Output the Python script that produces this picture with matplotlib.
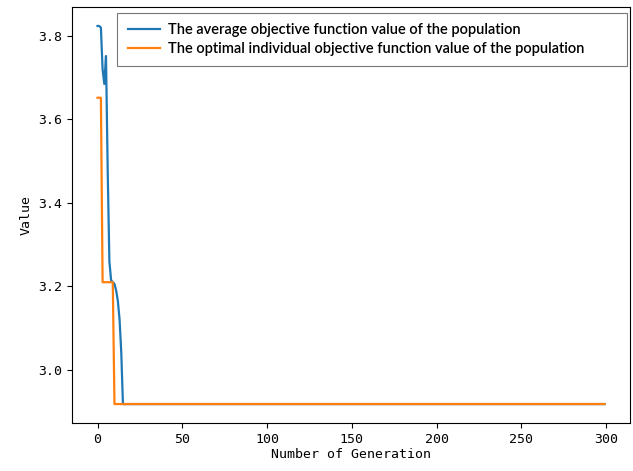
import numpy as np
import matplotlib.pyplot as plt

# values
n_gen = 300
avg_head = [3.824, 3.824, 3.82, 3.72, 3.685, 3.752, 3.48, 3.26, 3.215, 3.21,
            3.206, 3.19, 3.165, 3.121, 3.043, 2.918]
best_head = [3.652, 3.652, 3.652, 3.21, 3.21, 3.21, 3.21, 3.21, 3.21, 3.21]
final_value = 2.918

avg_vals = avg_head + [final_value] * (n_gen - len(avg_head))
best_vals = best_head + [final_value] * (n_gen - len(best_head))
generations = np.arange(n_gen)

label_font = 'DejaVu Sans Mono'

fig = plt.figure(figsize=(6.33, 4.71), dpi=100)
ax = fig.add_axes([0.114, 0.102, 0.881, 0.883])

ax.plot(generations, avg_vals, color='#1f77b4', lw=1.6,
        label='The average objective function value of the population')
ax.plot(generations, best_vals, color='#ff7f0e', lw=1.6,
        label='The optimal individual objective function value of the population')

ax.set_xlabel('Number of Generation', fontfamily=label_font, fontsize=9.5, labelpad=2)
ax.set_ylabel('Value', fontfamily=label_font, fontsize=9.5)
ax.set_xticks([0, 50, 100, 150, 200, 250, 300])
ax.set_yticks([3.0, 3.2, 3.4, 3.6, 3.8])
for lab in ax.get_xticklabels() + ax.get_yticklabels():
    lab.set_fontfamily(label_font)
    lab.set_fontsize(9.5)

leg = ax.legend(loc='upper left', bbox_to_anchor=(0.081, 0.851, 0.914, 0.135),
                mode='expand', borderaxespad=0,
                prop={'family': 'Lato', 'size': 10.5, 'weight': 'semibold'},
                fancybox=False, edgecolor='#555555', handlelength=2.25,
                handletextpad=0.55, borderpad=0.7, labelspacing=0.35)
leg.get_frame().set_linewidth(0.8)

fig.savefig('out.png', dpi=100)
